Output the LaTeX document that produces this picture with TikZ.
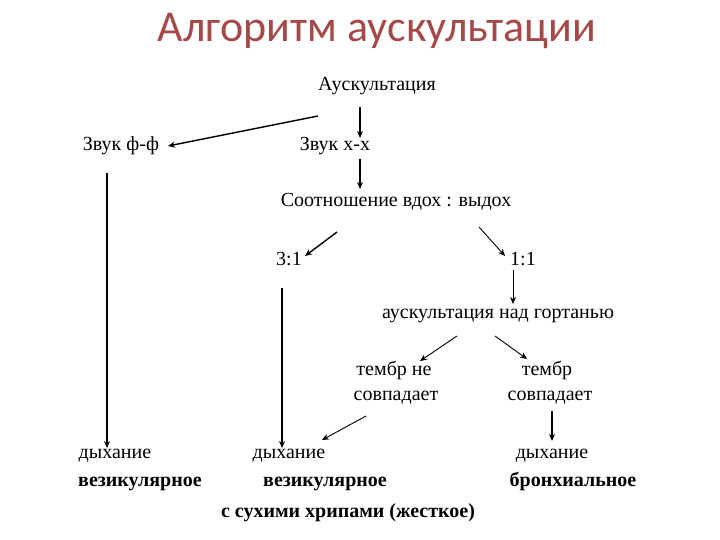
\documentclass[tikz,border=0pt]{standalone}
\usepackage{fontspec}
\setmainfont{Liberation Serif}
\newfontfamily\titlefont{Carlito}
\usetikzlibrary{arrows.meta,calc}
\definecolor{titlered}{RGB}{165,72,72}
\begin{document}
\begin{tikzpicture}[x=1pt,y=-1pt,
  txt/.style={inner sep=0pt,font=\fontsize{20}{24}\selectfont},
  btxt/.style={txt,font=\fontsize{20}{24}\selectfont\bfseries},
  arr/.style={line width=1.4pt,-{Stealth[length=7pt,width=6pt]}},
  tarr/.style={line width=0.9pt,-{Stealth[length=7pt,width=6pt]}}]
\useasboundingbox (0,0) rectangle (720,540);
\node[inner sep=0pt,font=\titlefont\fontsize{44}{50}\selectfont,text=titlered] (title) at (377,31) {Алгоритм аускультации};
\node[txt] (ausk) at (377,86) {Аускультация};
\node[txt] (ff) at (121,146) {Звук ф-ф};
\node[txt] (hh) at (335,146) {Звук х-х};
\node[txt] (ratio) at (396,202) {Соотношение вдох : выдох};
\node[txt] (r31) at (289,259) {3:1};
\node[txt] (r11) at (523,259) {1:1};
\node[txt] (gort) at (498,316) {аускультация над гортанью};
\node[txt] (tne1) at (394,370) {тембр не};
\node[txt] (tne2) at (396,398) {совпадает};
\node[txt] (ts1) at (547,370) {тембр};
\node[txt] (ts2) at (550,398) {совпадает};
\node[txt] (d1) at (115,456) {дыхание};
\node[btxt] (v1) at (140,484) {везикулярное};
\node[txt] (d2) at (289,456) {дыхание};
\node[btxt] (v2) at (325,484) {везикулярное};
\node[btxt] (v3) at (348,513) {с сухими хрипами (жесткое)};
\node[txt] (d3) at (552,456) {дыхание};
\node[btxt] (b3) at (573,481) {бронхиальное};
% connectors
\draw[arr] ($(ausk)+(-59,30)$) -- ($(ff)+(47,0)$);
\draw[arr] ($(ausk)+(-17,21)$) -- ($(hh)+(25,-8)$);
\draw[arr] ($(hh)+(25,13)$) -- ($(ratio)+(-36,-13)$);
\draw[arr] ($(ff)+(-14,27)$) -- ($(d1)+(-8,-8)$);
\draw[arr] ($(ratio)+(-59,30)$) -- ($(r31)+(16,-3)$);
\draw[tarr] ($(ratio)+(83,25)$) -- ($(r11)+(-18,-3)$);
\draw[tarr] ($(r11)+(-10,11)$) -- ($(gort)+(15,-12)$);
\draw[arr] ($(r31)+(-7,29)$) -- ($(d2)+(-7,-8)$);
\draw[tarr] ($(gort)+(-41,20)$) -- ($(tne1)+(26,-9)$);
\draw[tarr] ($(gort)+(-3,20)$) -- ($(ts1)+(-20,-11)$);
\draw[tarr] ($(tne2)+(-30,18)$) -- ($(d2)+(33,-16)$);
\draw[arr] ($(ts2)+(2,13)$) -- ($(d3)+(0,-15)$);
\end{tikzpicture}
\end{document}
